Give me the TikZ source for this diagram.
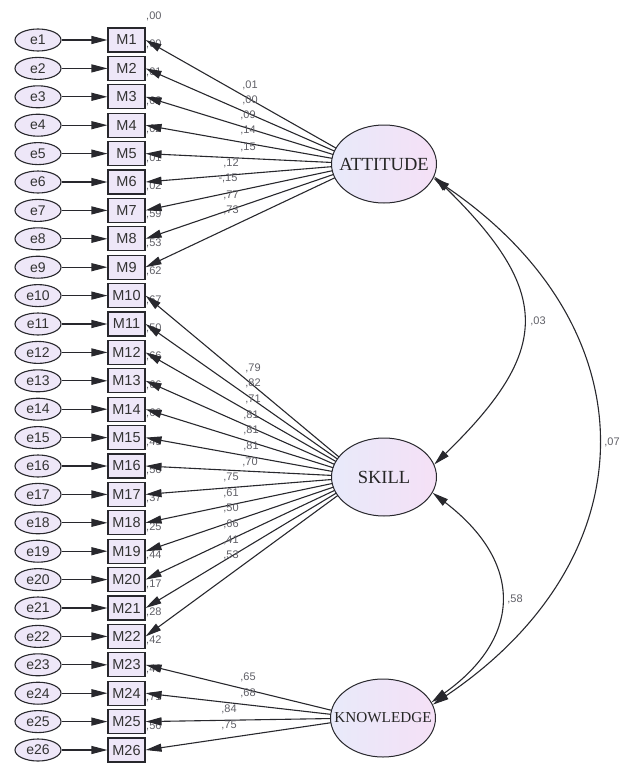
\documentclass[tikz,border=0pt]{standalone}
\usepackage{fontspec}
\setmainfont{Liberation Serif}
\newfontfamily\labelsans{Liberation Sans}
\usetikzlibrary{arrows.meta,calc,shapes.geometric}
\definecolor{boxfill}{RGB}{238,231,248}
\definecolor{latleft}{RGB}{232,234,250}
\definecolor{latright}{RGB}{245,224,246}
\definecolor{edgecol}{RGB}{40,40,45}
\definecolor{numgray}{RGB}{95,95,102}
\pgfdeclarelayer{bg}
\pgfsetlayers{bg,main}

\tikzset{
  tip/.tip={Triangle[length=16pt,width=8pt]},
  errnode/.style={draw=edgecol,line width=1.1pt,ellipse,fill=boxfill,
    minimum width=46pt,minimum height=22pt,inner sep=0pt,
    font=\labelsans\fontsize{14}{14}\selectfont,text=black!80},
  obsnode/.style={draw=edgecol,line width=1.1pt,rectangle,fill=boxfill,
    minimum width=37pt,minimum height=24pt,inner sep=0pt,
    font=\labelsans\fontsize{14.5}{14.5}\selectfont,text=black!80},
  latent/.style={draw=edgecol,line width=1pt,ellipse,left color=latleft,
    right color=latright,minimum width=105pt,minimum height=78pt,inner sep=0pt,
    text=black!85},
  regarrow/.style={-tip,line width=1.1pt,draw=edgecol},
  covarrow/.style={tip-tip,line width=1.1pt,draw=edgecol},
  coef/.style={font=\labelsans\fontsize{11}{11}\selectfont,text=numgray,inner sep=0pt},
}

\begin{document}
\begin{tikzpicture}[x=1pt,y=-1pt]
\useasboundingbox (0,0) rectangle (622,763);

% latent factors (zero-width text box, so the ellipse keeps its set size)
\node[latent,font=\fontsize{18.5}{18.5}\selectfont] (ATT) at (384,164) {\makebox[0pt]{ATTITUDE}};
\node[latent,font=\fontsize{18.5}{18.5}\selectfont] (SKILL) at (384,477) {\makebox[0pt]{SKILL}};
\node[latent,font=\fontsize{15.2}{15.2}\selectfont] (KNOW) at (383,718) {\makebox[0pt]{KNOWLEDGE}};

% points the loading lines radiate from (hidden under the ellipses)
\coordinate (ATTf) at ($(ATT.center)+(-20,0)$);
\coordinate (SKILLf) at ($(SKILL.center)+(-21,0)$);
\coordinate (KNOWf) at ($(KNOW.center)+(-20,0)$);

% error terms, indicators and their arrows
\foreach \k in {1,...,26} {
  \pgfmathsetmacro{\yy}{40+(\k-1)*28.4}
  \node[errnode] (e\k) at (38,\yy) {e\k};
  \node[obsnode] (M\k) at (126.5,\yy) {M\k};
  \draw[regarrow] (e\k) -- (M\k);
}

\begin{pgfonlayer}{bg}
  % squared multiple correlations
  \foreach \k/\v in {1/00,2/00,3/01,4/02,5/02,6/01,7/02,8/59,9/53,
                     10/62,11/67,12/50,13/66,14/66,15/66,16/49,17/56,18/37,
                     19/25,20/44,21/17,22/28,23/42,24/46,25/71,26/56} {
    \pgfmathsetmacro{\yy}{40+(\k-1)*28.4-24}
    \node[coef,anchor=west] (r\k) at (146,\yy) {,\v};
  }
  % factor loadings
  \foreach \k in {1,...,9}   \draw[regarrow] (ATTf) -- (M\k.east);
  \foreach \k in {10,...,22} \draw[regarrow] (SKILLf) -- (M\k.east);
  \foreach \k in {23,...,26} \draw[regarrow] (KNOWf) -- (M\k.east);
\end{pgfonlayer}

% loading values
\foreach \x/\y/\t [count=\i] in {250/85/01,250/100/00,248/115/09,248/130/14,248/147/15,
                      231/163/12,231/195/77,231/210/73}
  \node[coef] (la\i) at (\x,\y) {,\t};
\node[coef] (laneg) at (228,178) {-,15};
\foreach \x/\y/\t [count=\i] in {253/368/79,253/383/82,253/399/71,251/415/81,251/430/81,
                      251/446/81,250/462/70,231/477/75,231/493/61,231/508/50,
                      231/524/66,231/540/41,231/555/53}
  \node[coef] (ls\i) at (\x,\y) {,\t};
\foreach \x/\y/\t [count=\i] in {248/677/65,248/693/68,229/709/84,229/725/75}
  \node[coef] (lk\i) at (\x,\y) {,\t};

% factor covariances
\draw[covarrow] (ATT.-14) .. controls (552,292) and (552,350) .. (SKILL.14);
\draw[covarrow] (ATT.-16) .. controls (652,327) and (652,557) .. (KNOW.15);
\draw[covarrow] (SKILL.-18) .. controls (523,562) and (523,637) .. (KNOW.18);
\node[coef] (c1) at (538,321) {,03};
\node[coef] (c2) at (612,442) {,07};
\node[coef] (c3) at (515,599) {,58};
\end{tikzpicture}
\end{document}
